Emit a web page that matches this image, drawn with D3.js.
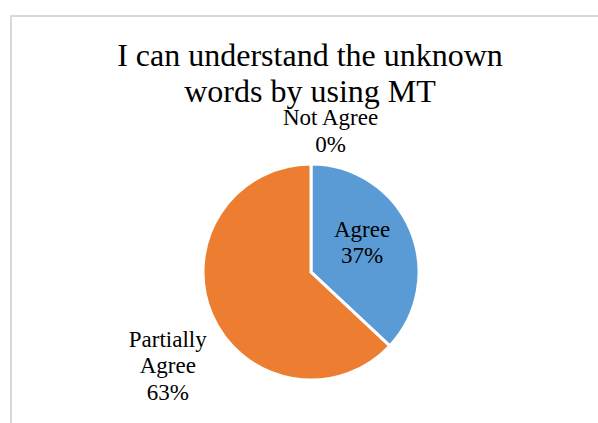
<!DOCTYPE html>
<html>
<head>
<meta charset="utf-8">
<script src="https://cdn.jsdelivr.net/npm/d3@7/dist/d3.min.js"></script>
<style>
  html, body { margin: 0; padding: 0; background: #fff; }
  svg { display: block; }
  text { font-family: "Liberation Serif", "Times New Roman", serif; fill: #000; }
</style>
</head>
<body>
<svg id="chart" width="598" height="423"></svg>
<script>
const titleLines = ["I can understand the unknown", "words by using MT"];
const categories = ["Agree", "Partially Agree", "Not Agree"];
const values = [37, 63, 0];
const colors = ["#5B9BD5", "#ED7D31", "#A5A5A5"];
const labelLines = [["Agree", "37%"], ["Partially", "Agree", "63%"], ["Not Agree", "0%"]];

const svg = d3.select("#chart");
const W = 598, H = 423;

// chart area border
svg.append("rect")
  .attr("x", 11).attr("y", 16)
  .attr("width", 620).attr("height", 440)
  .attr("fill", "#fff")
  .attr("stroke", "#d9d9d9").attr("stroke-width", 2);

// title
const title = svg.append("text")
  .attr("text-anchor", "middle")
  .attr("font-size", 32);
titleLines.forEach((t, i) => {
  title.append("tspan").attr("x", 310).attr("y", 66 + i * 35.5).text(t);
});

const cx = 311, cy = 272, r = 108;
const data = categories.map((c, i) => ({ cat: c, value: values[i], color: colors[i], lines: labelLines[i] }));

const pie = d3.pie().value(d => d.value).sort(null);
const arcs = pie(data);
const arc = d3.arc().innerRadius(0).outerRadius(r);

const g = svg.append("g").attr("transform", `translate(${cx},${cy})`);
g.selectAll("path")
  .data(arcs.filter(a => a.data.value > 0))
  .join("path")
  .attr("d", arc)
  .attr("fill", d => d.data.color)
  .attr("stroke", "#fff")
  .attr("stroke-width", 3)
  .attr("stroke-linejoin", "miter");

// labels
const fs = 23, lh = 26.5;
function labelPos(a, i) {
  const mid = (a.startAngle + a.endAngle) / 2;
  if (i === 0) {
    // inside label
    const d = r * 0.515;
    const x = Math.sin(mid) * d, y = -Math.cos(mid) * d;
    return { x: x, y: y - lh * (a.data.lines.length - 1) / 2 };
  } else if (i === 1) {
    const d = r * 1.445;
    const x = Math.sin(mid) * d, y = -Math.cos(mid) * d;
    return { x: x, y: y + 13 };
  } else {
    return { x: 19.5, y: -r - 39 };
  }
}
arcs.forEach((a, i) => {
  const p = labelPos(a, i);
  const t = g.append("text").attr("text-anchor", "middle").attr("font-size", fs);
  a.data.lines.forEach((ln, j) => {
    t.append("tspan").attr("x", p.x).attr("y", p.y + j * lh).text(ln);
  });
});
</script>
</body>
</html>
